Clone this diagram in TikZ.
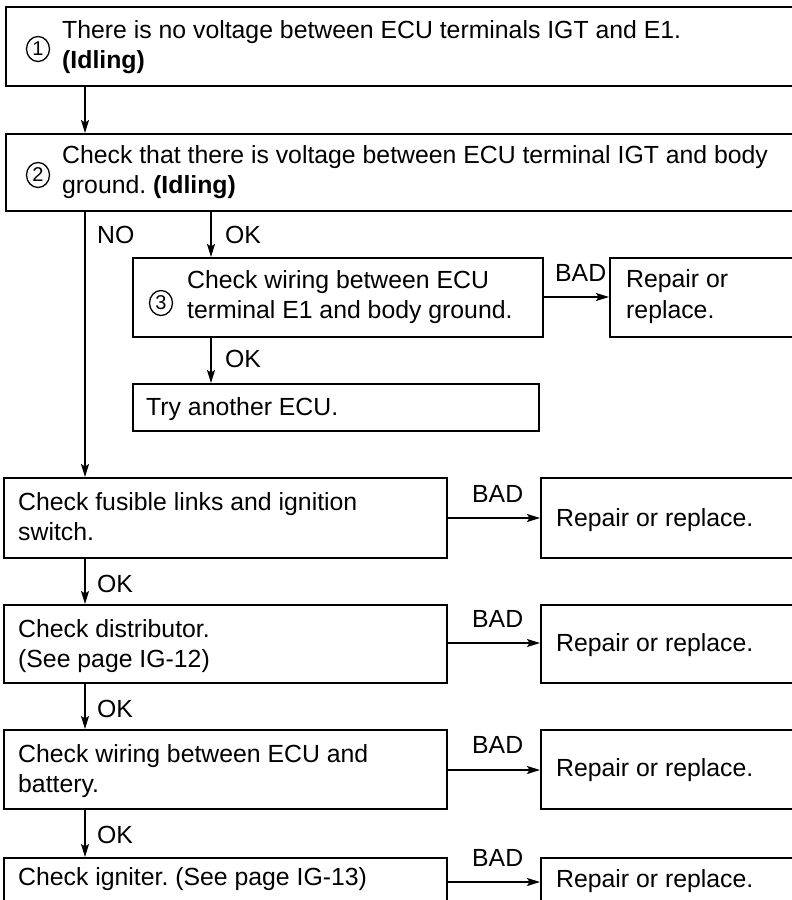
\documentclass[tikz,border=0pt]{standalone}
\usepackage{fontspec}
\setmainfont{Liberation Sans}
\usetikzlibrary{arrows.meta}
\frenchspacing
\tikzset{
  box/.style={draw=black, line width=1.9pt, rectangle, inner sep=0pt, anchor=north west},
  txt/.style={anchor=base west, inner sep=0pt, font=\fontsize{24.8}{30}\selectfont},
  lbl/.style={anchor=base west, inner sep=0pt, font=\fontsize{24.8}{30}\selectfont},
  num/.style={draw=black, line width=1.3pt, ellipse, minimum width=23pt, minimum height=25pt, inner sep=0pt, font=\fontsize{20}{20}\selectfont},
  arr/.style={draw=black, line width=1.4pt, -{Stealth[length=13pt,width=8pt,inset=2.5pt]}},
}
\usetikzlibrary{shapes.geometric}
\begin{document}
\begin{tikzpicture}[x=1pt,y=-1pt]
\clip (0,0) rectangle (792,900);
\fill[white] (0,0) rectangle (792,900);
% columns
\coordinate (xa) at (85,0);
\coordinate (xb) at (211,0);
% boxes
\node[box, minimum width=820pt, minimum height=79pt] (b1) at (5,6) {};
\node[box, minimum width=820pt, minimum height=77pt] (b2) at (5,133) {};
\node[box, minimum width=410pt, minimum height=79pt] (b3) at (132,257) {};
\node[box, minimum width=220pt, minimum height=79pt] (r0) at (609,257) {};
\node[box, minimum width=406pt, minimum height=47pt] (try) at (132,383) {};
\node[box, minimum width=443pt, minimum height=80pt] (fus) at (3,477) {};
\node[box, minimum width=280pt, minimum height=80pt] (r1) at (540,477) {};
\node[box, minimum width=443pt, minimum height=78pt] (dis) at (3,604) {};
\node[box, minimum width=280pt, minimum height=78pt] (r2) at (540,604) {};
\node[box, minimum width=443pt, minimum height=79pt] (wir) at (3,729) {};
\node[box, minimum width=280pt, minimum height=79pt] (r3) at (540,729) {};
\node[box, minimum width=443pt, minimum height=80pt] (ign) at (3,857) {};
\node[box, minimum width=280pt, minimum height=80pt] (r4) at (540,857) {};
% circled numbers
\node[num] (n1) at (38,49) {1};
\node[num] (n2) at (38,175) {2};
\node[num] (n3) at (161,303) {3};
% texts
\node[txt] (t1a) at (62,38) {There is no voltage between ECU terminals IGT and E1.};
\node[txt] (t1b) at (62,68) {\bfseries (Idling)};
\node[txt] (t2a) at (62,163) {Check that there is voltage between ECU terminal IGT and body};
\node[txt] (t2b) at (62,193) {ground. \textbf{(Idling)}};
\node[txt] (t3a) at (187,288) {Check wiring between ECU};
\node[txt] (t3b) at (187,318) {terminal E1 and body ground.};
\node[txt] (r0a) at (626,287) {Repair or};
\node[txt] (r0b) at (626,318) {replace.};
\node[txt] (tt) at (146,415) {Try another ECU.};
\node[txt] (tfa) at (18,510) {Check fusible links and ignition};
\node[txt] (tfb) at (18,540) {switch.};
\node[txt] (r1t) at (556,526) {Repair or replace.};
\node[txt] (tda) at (18,637) {Check distributor.};
\node[txt] (tdb) at (18,667) {(See page IG-12)};
\node[txt] (r2t) at (556,651) {Repair or replace.};
\node[txt] (twa) at (18,762) {Check wiring between ECU and};
\node[txt] (twb) at (18,792) {battery.};
\node[txt] (r3t) at (556,776) {Repair or replace.};
\node[txt] (ti) at (18,885) {Check igniter. (See page IG-13)};
\node[txt] (r4t) at (556,887) {Repair or replace.};
% connectors
\draw[arr] (b1.south -| xa) -- (b2.north -| xa);
\draw[arr] (b2.south -| xb) -- (b3.north -| xb);
\draw[arr] (b2.south -| xa) -- (fus.north -| xa);
\draw[arr] (b3.south -| xb) -- (try.north -| xb);
\draw[arr] (fus.south -| xa) -- (dis.north -| xa);
\draw[arr] (dis.south -| xa) -- (wir.north -| xa);
\draw[arr] (wir.south -| xa) -- (ign.north -| xa);
\coordinate (y0) at (0,297);
\coordinate (y1) at (0,518);
\coordinate (y2) at (0,643);
\coordinate (y3) at (0,770);
\coordinate (y4) at (0,882);
\draw[arr] (b3.east |- y0) -- (r0.west |- y0);
\draw[arr] (fus.east |- y1) -- (r1.west |- y1);
\draw[arr] (dis.east |- y2) -- (r2.west |- y2);
\draw[arr] (wir.east |- y3) -- (r3.west |- y3);
\draw[arr] (ign.east |- y4) -- (r4.west |- y4);
% labels
\node[lbl] (lno) at (97,243) {NO};
\node[lbl] (lok1) at (225,243) {OK};
\node[lbl] (lok2) at (225,367) {OK};
\node[lbl] (lok3) at (97,592) {OK};
\node[lbl] (lok4) at (97,717) {OK};
\node[lbl] (lok5) at (97,843) {OK};
\node[lbl] (lbad0) at (555,281) {BAD};
\node[lbl] (lbad1) at (472,502) {BAD};
\node[lbl] (lbad2) at (472,627) {BAD};
\node[lbl] (lbad3) at (472,753) {BAD};
\node[lbl] (lbad4) at (472,866) {BAD};
\end{tikzpicture}
\end{document}
